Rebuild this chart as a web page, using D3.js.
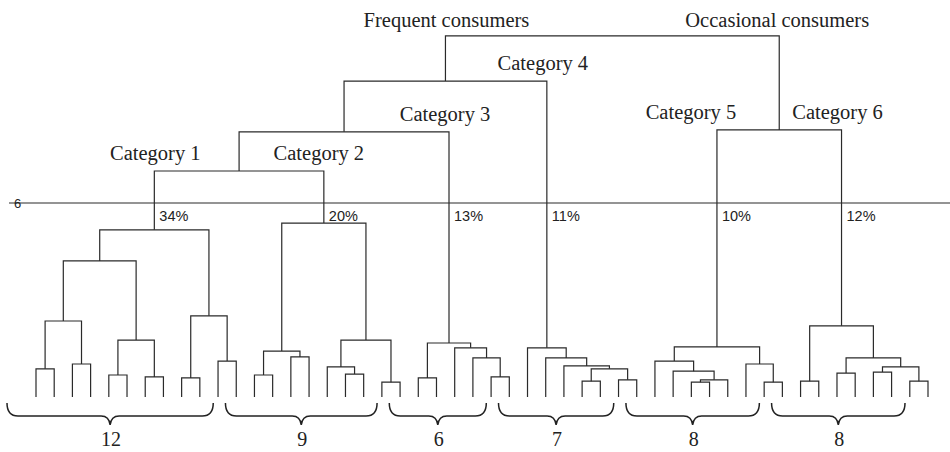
<!DOCTYPE html>
<html>
<head>
<meta charset="utf-8">
<script src="https://cdn.jsdelivr.net/npm/d3@7"></script>
<style>
  body { margin: 0; background: #fff; }
  .serif { font-family: "Liberation Serif", "Times New Roman", serif; fill: #222; }
  .sans { font-family: "Liberation Sans", Arial, sans-serif; fill: #222; }
</style>
</head>
<body>
<div class="dendro"></div>
<script>
// leaves are numbered 0..49 from left to right
// internal node = [merge height, left, right]
const cat1 = [5.17, [4.21, [2.35, [0.87, 0, 1], [1.02, 2, 3]], [1.76, [0.68, 4, 5], [0.62, 6, 7]]], [2.51, [0.59, 8, 9], [1.11, 10, 11]]];
const cat2 = [5.38, [1.42, [0.68, 12, 13], [1.24, 14, 15]], [1.76, [0.93, 16, [0.71, 17, 18]], [0.46, 19, 20]]];
const cat3 = [1.67, [0.59, 21, 22], [1.52, 23, [1.21, 24, [0.62, 25, 26]]]];
const cat4 = [1.52, 27, [1.21, 28, [0.96, 29, [0.87, [0.49, 30, 31], [0.53, 32, 33]]]]];
const cat5 = [1.55, [1.11, 34, [0.80, 35, [0.53, [0.46, 36, 37], 38]]], [1.02, 39, [0.46, 40, 41]]];
const cat6 = [2.20, [0.49, 42, 43], [1.21, [0.74, 44, 45], [0.93, [0.77, 46, 47], [0.49, 48, 49]]]];

const frequent = [9.77, [8.20, [6.99, cat1, cat2], cat3], cat4];
const occasional = [8.26, cat5, cat6];
const tree = [11.17, frequent, occasional];

const categories = [cat1, cat2, cat3, cat4, cat5, cat6];
const categoryNames = ['Category 1', 'Category 2', 'Category 3', 'Category 4', 'Category 5', 'Category 6'];
const categoryShares = ['34%', '20%', '13%', '11%', '10%', '12%'];
const groupNames = ['Frequent consumers', 'Occasional consumers'];
const clusterSizes = [12, 9, 6, 7, 8, 8];
const cutHeight = 6;
const leafCount = 50;

const width = 950, height = 452;

const x = d3.scalePoint()
            .domain(d3.range(leafCount))
            .range([36, 928]);
const y = d3.scaleLinear()
            .domain([0, cutHeight])
            .range([397, 203]);

const svg = d3.select('.dendro')
              .append('svg')
              .attr('width', width)
              .attr('height', height);

// walk the tree, keep node positions and parent heights
const info = new Map();
const links = [];
function layout(node, parentH) {
    if (typeof node === 'number') {
        const p = {x: x(node), h: 0};
        info.set(node, {...p, parentH});
        return p;
    }
    const a = layout(node[1], node[0]);
    const b = layout(node[2], node[0]);
    const p = {x: (a.x + b.x) / 2, h: node[0]};
    links.push({a, b, h: node[0]});
    info.set(node, {...p, parentH});
    return p;
}
layout(tree, null);

svg.append('g')
   .selectAll('path')
   .data(links)
   .join('path')
   .attr('d', d => `M${d.a.x},${y(d.a.h)}V${y(d.h)}H${d.b.x}V${y(d.b.h)}`)
   .attr('fill', 'none')
   .attr('stroke', '#2a2a2a')
   .attr('stroke-width', 1.2);

// cut line
svg.append('line')
   .attr('x1', 9).attr('x2', width)
   .attr('y1', y(cutHeight)).attr('y2', y(cutHeight))
   .attr('stroke', '#2a2a2a')
   .attr('stroke-width', 1.2);
svg.append('text')
   .attr('class', 'sans')
   .attr('x', 14)
   .attr('y', y(cutHeight) + 5)
   .attr('font-size', 13)
   .text(cutHeight);

// category labels and shares
const labelDx = [1, -5, -4, -4, -26, -4];
categories.forEach((c, i) => {
    const n = info.get(c);
    svg.append('text')
       .attr('class', 'serif')
       .attr('x', n.x + labelDx[i])
       .attr('y', y(n.parentH) - 11)
       .attr('text-anchor', 'middle')
       .attr('font-size', 20.5)
       .text(categoryNames[i]);
    svg.append('text')
       .attr('class', 'sans')
       .attr('x', n.x + 5)
       .attr('y', y(cutHeight) + 18)
       .attr('font-size', 14.5)
       .text(categoryShares[i]);
});

[frequent, occasional].forEach((g, i) => {
    const n = info.get(g);
    svg.append('text')
       .attr('class', 'serif')
       .attr('x', n.x + (i ? -2 : 1))
       .attr('y', y(n.parentH) - 9)
       .attr('text-anchor', 'middle')
       .attr('font-size', 20.5)
       .text(groupNames[i]);
});

// braces under each cluster
let first = 0;
clusterSizes.forEach(size => {
    const x0 = x(first) - 29, x1 = x(first + size - 1) - 23;
    const m = (x0 + x1) / 2;
    const top = 403, mid = 416, tip = 425;
    svg.append('path')
       .attr('d', `M${x0},${top}Q${x0},${mid} ${x0 + 11},${mid}H${m - 9}Q${m - 1},${mid} ${m},${tip}` +
                  `Q${m + 1},${mid} ${m + 9},${mid}H${x1 - 11}Q${x1},${mid} ${x1},${top}`)
       .attr('fill', 'none')
       .attr('stroke', '#222')
       .attr('stroke-width', 1.5);
    svg.append('text')
       .attr('class', 'serif')
       .attr('x', m + 1)
       .attr('y', 446)
       .attr('text-anchor', 'middle')
       .attr('font-size', 20)
       .text(size);
    first += size;
});
</script>
</body>
</html>
